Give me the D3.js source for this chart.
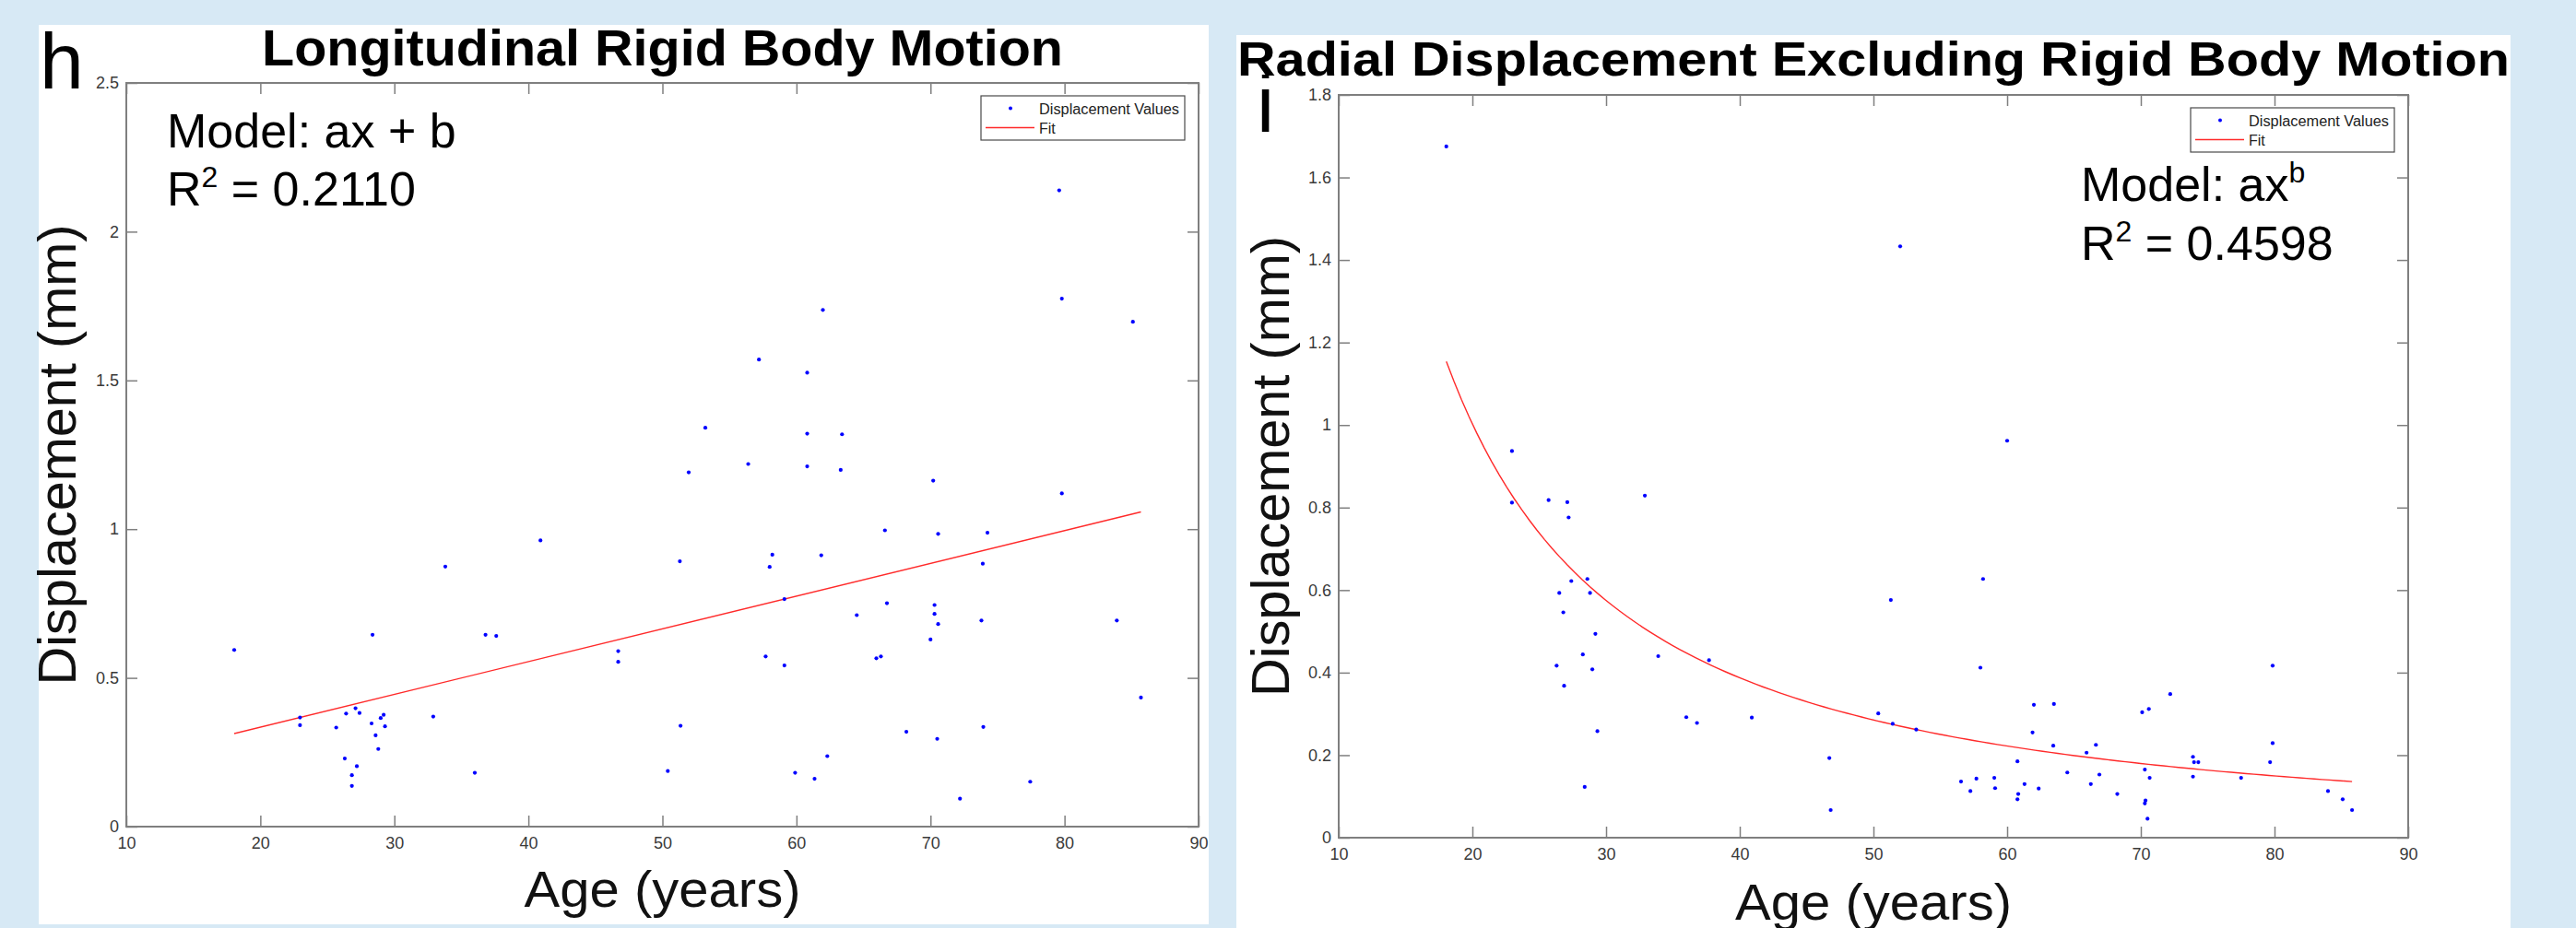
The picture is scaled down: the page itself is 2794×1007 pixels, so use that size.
<!DOCTYPE html>
<html><head><meta charset="utf-8">
<script src="https://cdn.jsdelivr.net/npm/d3@7"></script>
<style>html,body{margin:0;padding:0;background:#d7e9f5;overflow:hidden}svg{display:block}</style>
</head><body>
<script>
// ---------- data ----------
const xTicks = [10, 20, 30, 40, 50, 60, 70, 80, 90];
const yTicksLong = [0, 0.5, 1, 1.5, 2, 2.5];
const yTicksRad = [0, 0.2, 0.4, 0.6, 0.8, 1, 1.2, 1.4, 1.6, 1.8];

// Panel h: Longitudinal rigid body motion
const longAge = [18.05, 22.96, 22.96, 25.66, 26.4, 26.3, 26.83, 26.83, 27.1, 27.2, 27.4, 28.37, 28.3, 28.6, 28.8, 28.98, 29.2, 29.3,
  32.9, 33.8, 36.0, 36.8, 37.6, 40.9, 46.7, 46.7, 50.4, 51.3, 51.35, 51.96, 53.2, 56.4, 57.2, 57.7, 58.0, 58.2, 59.1, 59.1, 59.9,
  60.8, 60.8, 60.8, 61.85, 61.97, 61.35, 62.3, 63.3, 63.4, 64.5, 65.96, 66.3, 66.6, 66.75, 68.2, 70.0, 70.2, 70.3, 70.3, 70.5,
  70.57, 70.57, 72.2, 73.9, 73.8, 73.94, 74.25, 77.44, 79.6, 79.8, 79.8, 83.9, 85.1, 85.7];
const longDisp = [0.594, 0.367, 0.341, 0.333, 0.380, 0.229, 0.173, 0.137, 0.398, 0.203, 0.382, 0.645, 0.347, 0.307, 0.261, 0.365, 0.376, 0.337,
  0.370, 0.874, 0.181, 0.645, 0.641, 0.962, 0.590, 0.554, 0.187, 0.892, 0.339, 1.191, 1.341, 1.219, 1.570, 0.572, 0.873, 0.914, 0.765, 0.542, 0.181,
  1.526, 1.321, 1.211, 0.912, 1.737, 0.161, 0.237, 1.199, 1.319, 0.711, 0.566, 0.572, 0.996, 0.751, 0.319, 0.629, 1.163, 0.745, 0.715, 0.295,
  0.681, 0.984, 0.094, 0.884, 0.693, 0.335, 0.988, 0.151, 2.139, 1.775, 1.120, 0.693, 1.697, 0.434];
const longFit = { a: 0.01101, b: 0.1143 };   // model: a*x + b
const longStats = { model: "ax + b", r2: "0.2110" };

// Panel l: Radial displacement excluding rigid body motion
const radAge = [18.05, 22.96, 22.96, 25.7, 26.3, 26.5, 26.8, 26.86, 27.1, 27.2, 27.4, 28.26, 28.4, 28.6, 28.8, 28.97, 29.2, 29.35,
  32.9, 33.9, 36.0, 36.8, 37.7, 40.9, 46.7, 46.8, 50.36, 51.3, 51.44, 52.0, 53.2, 56.55, 57.25, 57.7, 58.0, 58.2, 59.04, 59.1,
  60.0, 60.77, 60.83, 60.77, 61.3, 61.9, 62.0, 62.36, 63.45, 63.5, 64.5, 65.94, 66.26, 66.64, 66.9, 68.24, 70.1, 70.3, 70.3,
  70.35, 70.6, 70.66, 70.5, 72.2, 73.9, 73.9, 73.98, 74.3, 77.5, 79.67, 79.86, 79.86, 84.0, 85.1, 85.8];
const radDisp = [1.675, 0.937, 0.812, 0.818, 0.417, 0.593, 0.546, 0.368, 0.813, 0.776, 0.622, 0.444, 0.123, 0.627, 0.593, 0.408, 0.494, 0.258,
  0.829, 0.440, 0.292, 0.278, 0.430, 0.291, 0.193, 0.067, 0.301, 0.576, 0.276, 1.433, 0.262, 0.136, 0.113, 0.143, 0.412, 0.627, 0.145, 0.120,
  0.962, 0.185, 0.106, 0.093, 0.130, 0.255, 0.322, 0.119, 0.223, 0.324, 0.158, 0.206, 0.130, 0.225, 0.153, 0.106, 0.304, 0.165, 0.083,
  0.090, 0.312, 0.145, 0.046, 0.348, 0.148, 0.196, 0.183, 0.183, 0.145, 0.183, 0.417, 0.229, 0.113, 0.093, 0.067];
const radFit = { a: 61.06, b: -1.3717 };      // model: a*x^b
const radStats = { model: "ax", sup: "b", r2: "0.4598" };

const legendLabels = ["Displacement Values", "Fit"];

// ---------- drawing ----------
const W = 2794, H = 1007;
const FONT = "'Liberation Sans', Arial, Helvetica, sans-serif";
const svg = d3.select("body").append("svg").attr("width", W).attr("height", H)
  .style("font-family", FONT);
svg.append("rect").attr("width", W).attr("height", H).attr("fill", "#d7e9f5");

function panel(cfg) {
  const g = svg.append("g");
  g.append("rect").attr("x", cfg.bg[0]).attr("y", cfg.bg[1]).attr("width", cfg.bg[2]).attr("height", cfg.bg[3]).attr("fill", "#fff");
  const b = cfg.box;
  const x = d3.scaleLinear().domain([10, 90]).range([b.x0, b.x1]);
  const y = d3.scaleLinear().domain(cfg.yDomain).range([b.y1, b.y0]);

  const tickCol = "#7f7f7f", labCol = "#3a3a3a";
  function styleAxis(sel, showLabels) {
    sel.select(".domain").remove();
    sel.selectAll(".tick line").attr("stroke", tickCol).attr("stroke-width", 1.5);
    sel.selectAll(".tick text").attr("fill", labCol).style("font-size", "18px").style("font-family", FONT);
    if (!showLabels) sel.selectAll(".tick text").remove();
  }
  const inner = 12;
  g.append("g").attr("transform", `translate(0,${b.y1})`)
    .call(d3.axisBottom(x).tickValues(xTicks).tickFormat(d => String(d)).tickSizeInner(-inner).tickSizeOuter(0).tickPadding(11))
    .call(s => styleAxis(s, true));
  g.append("g").attr("transform", `translate(0,${b.y0})`)
    .call(d3.axisTop(x).tickValues(xTicks).tickSizeInner(-inner).tickSizeOuter(0))
    .call(s => styleAxis(s, false));
  g.append("g").attr("transform", `translate(${b.x0},0)`)
    .call(d3.axisLeft(y).tickValues(cfg.yTicks).tickFormat(d => String(d)).tickSizeInner(-inner).tickSizeOuter(0).tickPadding(8))
    .call(s => styleAxis(s, true));
  g.append("g").attr("transform", `translate(${b.x1},0)`)
    .call(d3.axisRight(y).tickValues(cfg.yTicks).tickSizeInner(-inner).tickSizeOuter(0))
    .call(s => styleAxis(s, false));
  g.append("rect").attr("x", b.x0).attr("y", b.y0).attr("width", b.x1 - b.x0).attr("height", b.y1 - b.y0)
    .attr("fill", "none").attr("stroke", tickCol).attr("stroke-width", 2);

  // fit line
  g.append("path").datum(cfg.fitPts).attr("fill", "none").attr("stroke", "#ff2a2a").attr("stroke-width", 1.4)
    .attr("d", d3.line().x(d => x(d[0])).y(d => y(d[1])));

  // points
  g.append("g").selectAll("circle").data(cfg.ages.map((a, i) => [a, cfg.disp[i]])).join("circle")
    .attr("cx", d => x(d[0])).attr("cy", d => y(d[1])).attr("r", 2.1).attr("fill", "#0000ff");

  // legend
  const lw = 221, lh = 48;
  const lx = b.x1 - 15 - lw, ly = b.y0 + 14;
  const lg = g.append("g").attr("transform", `translate(${lx},${ly})`);
  lg.append("rect").attr("width", lw).attr("height", lh).attr("fill", "#fff").attr("stroke", "#4a4a4a").attr("stroke-width", 1.2);
  lg.append("circle").attr("cx", 32).attr("cy", 13.5).attr("r", 2).attr("fill", "#0000ff");
  lg.append("line").attr("x1", 5).attr("x2", 58).attr("y1", 34.5).attr("y2", 34.5).attr("stroke", "#ff2a2a").attr("stroke-width", 1.4);
  lg.append("text").attr("x", 63).attr("y", 19.5).attr("fill", "#222").style("font-size", "16px")
    .attr("textLength", 152).attr("lengthAdjust", "spacingAndGlyphs").text(legendLabels[0]);
  lg.append("text").attr("x", 63).attr("y", 40.5).attr("fill", "#222").style("font-size", "16px").text(legendLabels[1]);

  // model annotation
  const m = g.append("text").attr("x", cfg.ann[0]).attr("y", cfg.ann[1]).attr("fill", "#000").style("font-size", "52px");
  m.append("tspan").text("Model: " + cfg.stats.model);
  if (cfg.stats.sup) m.append("tspan").attr("dy", -20).style("font-size", "32px").text(cfg.stats.sup);
  const r = g.append("text").attr("x", cfg.ann[0]).attr("y", cfg.ann[2]).attr("fill", "#000").style("font-size", "52px");
  r.append("tspan").text("R");
  r.append("tspan").attr("dy", -20).style("font-size", "32px").text("2");
  r.append("tspan").attr("dy", 20).text(" = " + cfg.stats.r2);

  // title
  g.append("text").attr("x", (b.x0 + b.x1) / 2).attr("y", cfg.titleY).attr("text-anchor", "middle")
    .style("font-size", cfg.titleSize + "px").style("font-weight", "bold").attr("fill", "#000")
    .attr("textLength", cfg.titleLen).attr("lengthAdjust", "spacingAndGlyphs").text(cfg.title);

  // axis labels
  g.append("text").attr("x", (b.x0 + b.x1) / 2).attr("y", cfg.xlabY).attr("text-anchor", "middle")
    .style("font-size", "56px").attr("fill", "#111").attr("textLength", 300).attr("lengthAdjust", "spacingAndGlyphs")
    .text("Age (years)");
  g.append("text").attr("transform", `translate(${cfg.ylabX},${(b.y0 + b.y1) / 2}) rotate(-90)`).attr("text-anchor", "middle")
    .style("font-size", "58px").attr("fill", "#111").attr("textLength", 500).attr("lengthAdjust", "spacingAndGlyphs")
    .text("Displacement (mm)");
  return g;
}

const [lmin, lmax] = d3.extent(longAge);
const gl = panel({
  bg: [42, 27, 1269, 976],
  box: { x0: 137, x1: 1300, y0: 90, y1: 897 },
  yDomain: [0, 2.5], yTicks: yTicksLong,
  ages: longAge, disp: longDisp,
  fitPts: [lmin, lmax].map(a => [a, longFit.a * a + longFit.b]),
  stats: longStats, ann: [181, 160, 223],
  title: "Longitudinal Rigid Body Motion", titleY: 71, titleSize: 56, titleLen: 869,
  xlabY: 984, ylabX: 82
});
gl.append("text").attr("x", 43).attr("y", 96).style("font-size", "86px").attr("fill", "#000").text("h");

const [rmin, rmax] = d3.extent(radAge);
const gr = panel({
  bg: [1341, 38, 1382, 969],
  box: { x0: 1452, x1: 2612, y0: 103, y1: 909 },
  yDomain: [0, 1.8], yTicks: yTicksRad,
  ages: radAge, disp: radDisp,
  fitPts: d3.range(0, 121).map(i => { const a = rmin + (rmax - rmin) * i / 120; return [a, radFit.a * Math.pow(a, radFit.b)]; }),
  stats: radStats, ann: [2257, 218, 282],
  title: "Radial Displacement Excluding Rigid Body Motion", titleY: 82, titleSize: 52, titleLen: 1380,
  xlabY: 998, ylabX: 1398
});
gr.append("text").attr("x", 1363).attr("y", 143).style("font-size", "86px").attr("fill", "#000").text("l");
gr.append("rect").attr("x", 1360).attr("y", 85).attr("width", 30).attr("height", 12).attr("fill", "#fff");
</script>
</body></html>
